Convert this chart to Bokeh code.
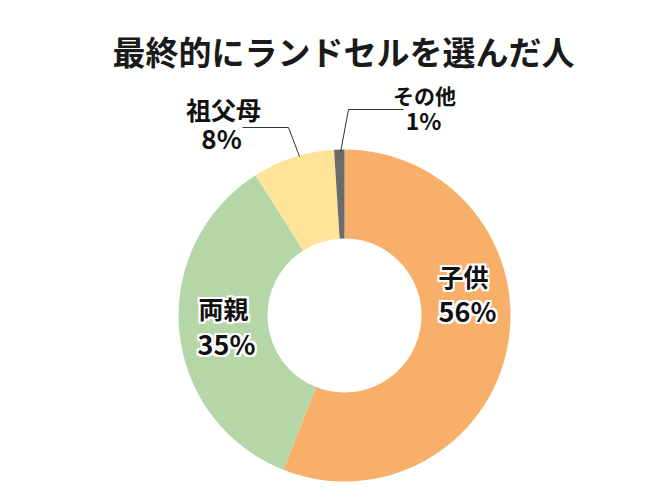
import numpy as np
from bokeh.plotting import figure
from bokeh.models import Range1d, ColumnDataSource
from bokeh.core.properties import value
from bokeh.embed import file_html
from bokeh.resources import INLINE

# ---- data ----
categories = ["子供", "両親", "祖父母", "その他"]
percents = [56, 35, 8, 1]
colors = ["#F7AF69", "#B5D6A6", "#FFE398", "#6B6B6B"]
title_text = "最終的にランドセルを選んだ人"

W, H = 661, 503
FONT = "Noto Sans CJK JP"

def Y(py):
    return H - py

p = figure(width=W, height=H, output_backend="svg", toolbar_location=None,
           x_range=Range1d(0, W), y_range=Range1d(0, H), min_border=0,
           border_fill_color="white", background_fill_color="white")
p.axis.visible = False
p.grid.visible = False
p.outline_line_color = None

cx, cy = 344, Y(315)
r_out, r_in = 166, 77

vals = np.array(percents, dtype=float)
frac = vals / vals.sum()
cum = np.concatenate([[0], np.cumsum(frac)])
start = np.pi / 2 - 2 * np.pi * cum[:-1]
end = np.pi / 2 - 2 * np.pi * cum[1:]

src = ColumnDataSource(dict(cat=categories, start=start, end=end, color=colors))
p.annular_wedge(x=cx, y=cy, inner_radius=r_in, outer_radius=r_out,
                start_angle="start", end_angle="end", direction="clock",
                fill_color="color", line_color=None, source=src)

# leader lines
p.line(x=[242, 288, 299], y=[Y(127), Y(127), Y(156)], line_color="#333333", line_width=1)
p.line(x=[403, 348, 340], y=[Y(109), Y(109), Y(152)], line_color="#333333", line_width=1)

# label positions (pixel coords): name, percent, name size, pct size
label_pos = [((463, 275), (467, 310), "25px", "27px"),
             ((223, 307), (226, 343), "25px", "27px"),
             ((223, 108), (221, 137), "25px", "26px"),
             ((424, 94), (423, 119), "21px", "23px")]

def halo_text(x, y, txt, size):
    offs = [(dx, dy) for dx in (-2, 0, 2) for dy in (-2, 0, 2) if not (dx == 0 and dy == 0)]
    for dx, dy in offs:
        p.text(x=[x], y=[Y(y)], text=[txt], text_font=value(FONT), text_font_style="bold",
               text_font_size=size, text_color="white", text_align="center",
               text_baseline="middle", x_offset=dx, y_offset=dy)
    p.text(x=[x], y=[Y(y)], text=[txt], text_font=value(FONT), text_font_style="bold",
           text_font_size=size, text_color="#111111", text_align="center",
           text_baseline="middle")

for cat, pct, (npos, ppos, nsize, psize) in zip(categories, percents, label_pos):
    halo_text(npos[0], npos[1], cat, nsize)
    halo_text(ppos[0], ppos[1], f"{pct}%", psize)

# title
p.text(x=[343], y=[Y(50)], text=[title_text], text_font=value(FONT), text_font_style="bold",
       text_font_size="33px", text_color="#1a1a1a", text_align="center", text_baseline="middle")

open("out.html", "w").write(file_html(p, INLINE))
